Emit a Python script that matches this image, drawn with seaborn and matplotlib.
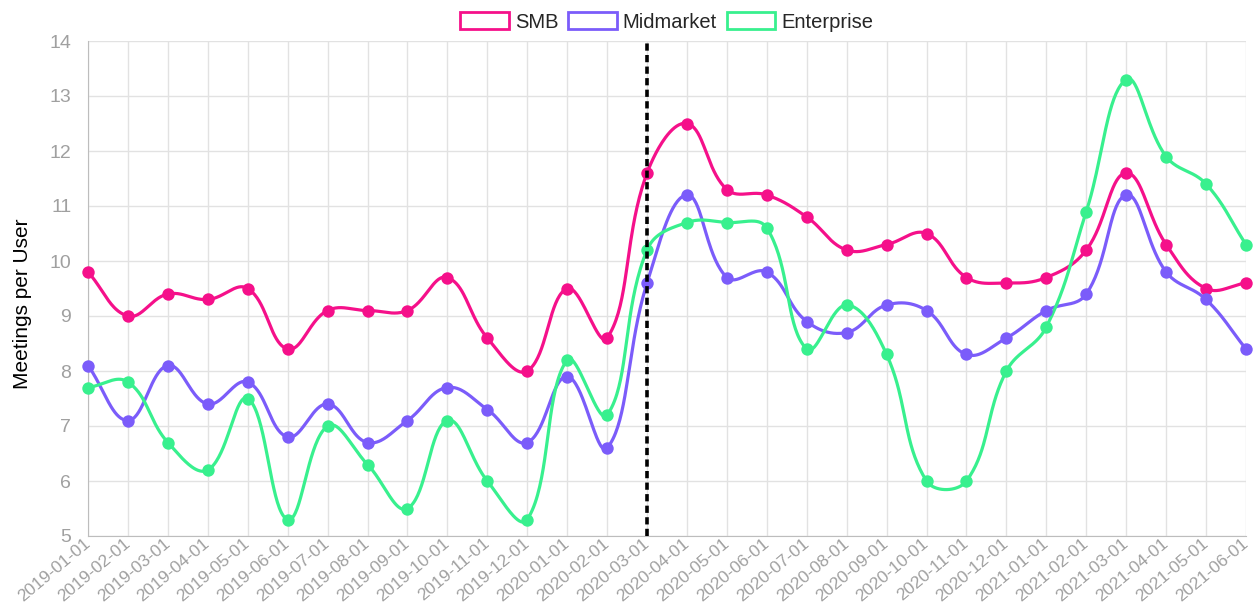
import numpy as np
import pandas as pd
import matplotlib
matplotlib.use("Agg")
import matplotlib.pyplot as plt
from matplotlib.patches import Patch
import seaborn as sns

months = [
    "2019-01-01", "2019-02-01", "2019-03-01", "2019-04-01", "2019-05-01", "2019-06-01",
    "2019-07-01", "2019-08-01", "2019-09-01", "2019-10-01", "2019-11-01", "2019-12-01",
    "2020-01-01", "2020-02-01", "2020-03-01", "2020-04-01", "2020-05-01", "2020-06-01",
    "2020-07-01", "2020-08-01", "2020-09-01", "2020-10-01", "2020-11-01", "2020-12-01",
    "2021-01-01", "2021-02-01", "2021-03-01", "2021-04-01", "2021-05-01", "2021-06-01",
]
smb = [9.8, 9.0, 9.4, 9.3, 9.5, 8.4, 9.1, 9.1, 9.1, 9.7, 8.6, 8.0, 9.5, 8.6, 11.6,
       12.5, 11.3, 11.2, 10.8, 10.2, 10.3, 10.5, 9.7, 9.6, 9.7, 10.2, 11.6, 10.3, 9.5, 9.6]
midmarket = [8.1, 7.1, 8.1, 7.4, 7.8, 6.8, 7.4, 6.7, 7.1, 7.7, 7.3, 6.7, 7.9, 6.6, 9.6,
             11.2, 9.7, 9.8, 8.9, 8.7, 9.2, 9.1, 8.3, 8.6, 9.1, 9.4, 11.2, 9.8, 9.3, 8.4]
enterprise = [7.7, 7.8, 6.7, 6.2, 7.5, 5.3, 7.0, 6.3, 5.5, 7.1, 6.0, 5.3, 8.2, 7.2, 10.2,
              10.7, 10.7, 10.6, 8.4, 9.2, 8.3, 6.0, 6.0, 8.0, 8.8, 10.9, 13.3, 11.9, 11.4, 10.3]
marker_month = "2020-03-01"

series = {"SMB": smb, "Midmarket": midmarket, "Enterprise": enterprise}
colors = {"SMB": "#f5108a", "Midmarket": "#7b5cfa", "Enterprise": "#38f08e"}

sns.set_style("white")
plt.rcParams["font.family"] = ["Liberation Sans", "DejaVu Sans"]

fig = plt.figure(figsize=(12.6, 6.08), dpi=100)
ax = fig.add_axes([88 / 1260, 1 - 536 / 608, (1246 - 88) / 1260, (536 - 41) / 608])

# pixel scale used for the spline (chart.js style, tension 0.4)
sx = (1246 - 88) / (len(months) - 1)
sy = (536 - 41) / 9.0


def smooth(xs, ys, tension=0.4, n=40):
    px = np.asarray(xs, float) * sx
    py = np.asarray(ys, float) * sy
    m = len(px)
    cp_prev = np.zeros((m, 2))
    cp_next = np.zeros((m, 2))
    for i in range(m):
        p0 = (px[max(i - 1, 0)], py[max(i - 1, 0)])
        p1 = (px[i], py[i])
        p2 = (px[min(i + 1, m - 1)], py[min(i + 1, m - 1)])
        d01 = np.hypot(p1[0] - p0[0], p1[1] - p0[1])
        d12 = np.hypot(p2[0] - p1[0], p2[1] - p1[1])
        tot = d01 + d12
        s01 = d01 / tot if tot else 0
        s12 = d12 / tot if tot else 0
        fa, fb = tension * s01, tension * s12
        cp_prev[i] = (p1[0] - fa * (p2[0] - p0[0]), p1[1] - fa * (p2[1] - p0[1]))
        cp_next[i] = (p1[0] + fb * (p2[0] - p0[0]), p1[1] + fb * (p2[1] - p0[1]))
    out_x, out_y = [], []
    t = np.linspace(0, 1, n)
    for i in range(m - 1):
        P0 = np.array([px[i], py[i]])
        P1 = cp_next[i]
        P2 = cp_prev[i + 1]
        P3 = np.array([px[i + 1], py[i + 1]])
        b = ((1 - t) ** 3)[:, None] * P0 + (3 * (1 - t) ** 2 * t)[:, None] * P1 \
            + (3 * (1 - t) * t ** 2)[:, None] * P2 + (t ** 3)[:, None] * P3
        out_x.extend(b[:, 0] / sx)
        out_y.extend(b[:, 1] / sy)
    return np.array(out_x), np.array(out_y)


idx = np.arange(len(months))
for name, vals in series.items():
    cx, cy = smooth(idx, vals)
    curve = pd.DataFrame({"x": cx, "y": cy})
    sns.lineplot(data=curve, x="x", y="y", sort=False, estimator=None, ax=ax,
                 color=colors[name], linewidth=2.3, zorder=3)
    pts = pd.DataFrame({"x": idx, "y": vals})
    sns.scatterplot(data=pts, x="x", y="y", ax=ax, color=colors[name], s=80,
                    edgecolor=colors[name], linewidth=0, zorder=4, clip_on=False)

ax.axvline(months.index(marker_month), color="black", linestyle=(0, (2, 1.2)),
           linewidth=2.6, zorder=5)

ax.set_xlim(0, len(months) - 1)
ax.set_ylim(5, 14)
ax.set_xticks(idx)
ax.set_xticklabels(months, rotation=40, ha="right", va="center", rotation_mode="anchor")
ax.set_yticks(range(5, 15))
ax.tick_params(axis="both", colors="#cccccc", labelcolor="#a0a0a0", length=8, width=1)
ax.tick_params(axis="x", labelsize=12.5, pad=-4)
ax.tick_params(axis="y", labelsize=14, pad=4)
ax.grid(True, color="#e2e2e2", linewidth=1)
for side in ["top", "right"]:
    ax.spines[side].set_visible(False)
for side in ["left", "bottom"]:
    ax.spines[side].set_color("#bdbdbd")
ax.set_xlabel("")
ax.set_ylabel("Meetings per User", fontsize=15, color="black")
ax.yaxis.set_label_coords(-56 / 1158, 0.47)

handles = [Patch(facecolor="white", edgecolor=colors[k], linewidth=2, label=k) for k in series]
ax.legend(handles=handles, loc="center", bbox_to_anchor=(0.5, 1 + 19 / 495), ncol=3,
          frameon=False, fontsize=14.5, handlelength=2.4, handleheight=0.85,
          handletextpad=0.3, columnspacing=0.5, borderpad=0, borderaxespad=0)

fig.savefig("out.png", dpi=100)
